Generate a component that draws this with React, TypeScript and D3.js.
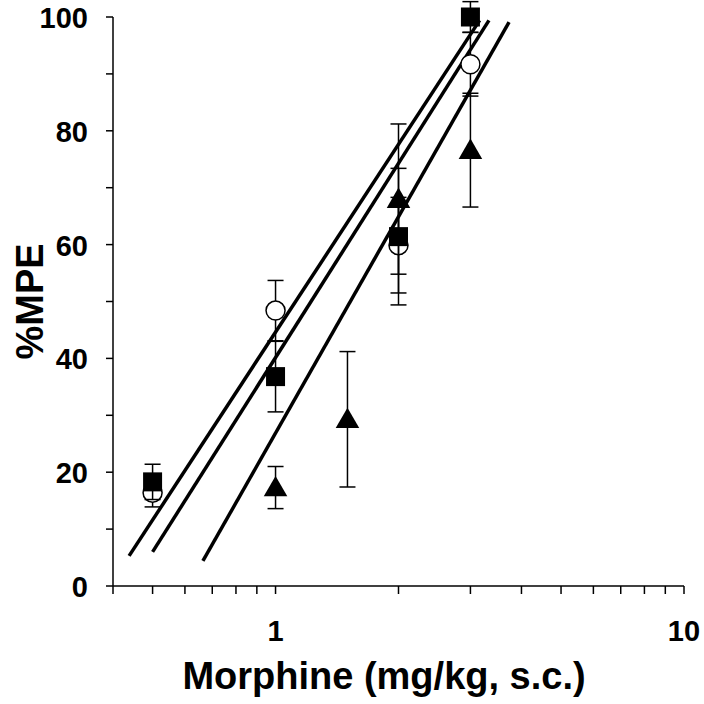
import React from 'react';
import * as d3 from 'd3';

// dose (mg/kg) for every group
const circleDoses = [0.5, 1, 2, 3];
const circleMeans = [16.4, 48.4, 59.9, 91.7];
const circleSem = [2.5, 5.3, 8.4, 5.6];

const squareDoses = [0.5, 1, 2, 3];
const squareMeans = [18.3, 36.8, 61.4, 100];
const squareSem = [3.1, 6.2, 12.0, 2.7];

const triangleDoses = [1, 1.5, 2, 3];
const triangleMeans = [17.3, 29.3, 68.0, 76.6];
const triangleSem = [3.7, 11.9, 13.2, 10.0];

// regression lines, end points
const circleFitX = [0.438, 3.16];
const circleFitY = [5.3, 99.4];
const squareFitX = [0.5, 3.33];
const squareFitY = [6.0, 99.4];
const triangleFitX = [0.664, 3.73];
const triangleFitY = [4.4, 99.1];

const yTicks = [0, 10, 20, 30, 40, 50, 60, 70, 80, 90, 100];
const yLabels = [0, 20, 40, 60, 80, 100];
const xTicks = [0.4, 0.5, 0.6, 0.7, 0.8, 0.9, 1, 2, 3, 4, 5, 6, 7, 8, 9, 10];
const xLabels = [1, 10];

const W = 704;
const H = 704;
const FONT = '"Liberation Sans", Arial, sans-serif';

const x = d3.scaleLog().domain([0.4, 10]).range([113, 684]);
const y = d3.scaleLinear().domain([0, 100]).range([586, 17]);

const zip = (xs, ys, es) => xs.map((d, i) => ({ x: d, y: ys[i], e: es[i] }));

const ErrorBars = ({ data }) => (
  <g stroke="#000" strokeWidth={1.5}>
    {data.map((d, i) => {
      const cx = x(d.x);
      return (
        <g key={i}>
          <line x1={cx} x2={cx} y1={y(d.y - d.e)} y2={y(d.y + d.e)} />
          <line x1={cx - 8} x2={cx + 8} y1={y(d.y + d.e)} y2={y(d.y + d.e)} />
          <line x1={cx - 8} x2={cx + 8} y1={y(d.y - d.e)} y2={y(d.y - d.e)} />
        </g>
      );
    })}
  </g>
);

const FitLine = ({ xs, ys }) => {
  const pts = xs.map((d, i) => [d, ys[i]]);
  const path = d3.line().x(d => x(d[0])).y(d => y(d[1]))(pts);
  return <path d={path} fill="none" stroke="#000" strokeWidth={3.5} />;
};

export default function App() {
  const circles = zip(circleDoses, circleMeans, circleSem);
  const squares = zip(squareDoses, squareMeans, squareSem);
  const triangles = zip(triangleDoses, triangleMeans, triangleSem);

  const tri = d3.symbol().type(d3.symbolTriangle).size(240)();

  return (
    <svg width={W} height={H} style={{ position: 'absolute', left: 0, top: 0, background: '#fff' }}>
      {/* axes */}
      <g stroke="#000" strokeWidth={1.5}>
        <line x1={113} x2={113} y1={y(100)} y2={y(0)} />
        <line x1={x(0.4)} x2={x(10)} y1={y(0)} y2={y(0)} />
        {yTicks.map(t => (
          <line key={t} x1={106} x2={113} y1={y(t)} y2={y(t)} />
        ))}
        {xTicks.map(t => (
          <line key={t} x1={x(t)} x2={x(t)} y1={y(0)} y2={y(0) + 8} />
        ))}
      </g>
      <g fontFamily={FONT} fontWeight="bold" fontSize={29} fill="#000">
        {yLabels.map(t => (
          <text key={t} x={88} y={y(t) + 11} textAnchor="end">{t}</text>
        ))}
        {xLabels.map(t => (
          <text key={t} x={x(t)} y={641} textAnchor="middle">{t}</text>
        ))}
      </g>
      <text x={384} y={689} textAnchor="middle" fontFamily={FONT} fontWeight="bold" fontSize={38}>
        Morphine (mg/kg, s.c.)
      </text>
      <text
        transform={`translate(43, ${y(50)}) rotate(-90)`}
        textAnchor="middle"
        fontFamily={FONT}
        fontWeight="bold"
        fontSize={38}
      >
        %MPE
      </text>

      {/* fitted lines */}
      <FitLine xs={circleFitX} ys={circleFitY} />
      <FitLine xs={squareFitX} ys={squareFitY} />
      <FitLine xs={triangleFitX} ys={triangleFitY} />

      {/* open circles */}
      <ErrorBars data={circles} />
      {circles.map((d, i) => (
        <circle key={i} cx={x(d.x)} cy={y(d.y)} r={9.5} fill="#fff" stroke="#000" strokeWidth={1.5} />
      ))}

      {/* filled squares */}
      <ErrorBars data={squares} />
      {squares.map((d, i) => (
        <rect key={i} x={x(d.x) - 9.5} y={y(d.y) - 9.5} width={19} height={19} fill="#000" />
      ))}

      {/* filled triangles */}
      <ErrorBars data={triangles} />
      {triangles.map((d, i) => (
        <path key={i} d={tri} transform={`translate(${x(d.x)}, ${y(d.y) + 2})`} fill="#000" />
      ))}
    </svg>
  );
}
